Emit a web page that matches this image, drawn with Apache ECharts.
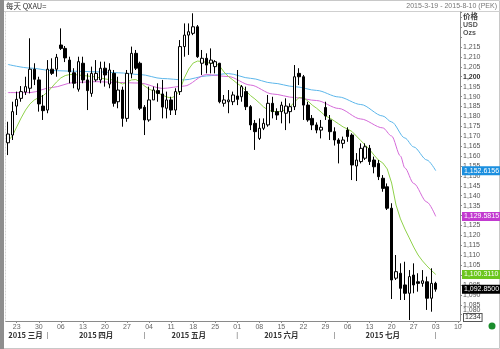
<!DOCTYPE html>
<html><head><meta charset="utf-8">
<script src="https://cdn.jsdelivr.net/npm/echarts@6/dist/echarts.min.js"></script>
<style>html,body{margin:0;padding:0;background:#fff;}#c{width:500px;height:349px;}</style>
</head><body><div id="c"></div>
<script>
// ---- data ----
const startDate = '2015-03-19', endDate = '2015-08-10';
const opens  = [1166.7,1170.6,1185.2,1189.1,1192.3,1194.2,1203.8,1198.4,1185.2,1183.2,1203.8,1203.8,1216.0,1214.3,1208.4,1202.0,1193.7,1206.8,1198.4,1191.6,1198.4,1198.4,1204.3,1196.3,1201.7,1187.4,1193.3,1179.0,1201.7,1211.8,1206.8,1184.6,1178.2,1188.3,1193.0,1191.3,1184.1,1188.3,1183.2,1192.5,1215.2,1221.0,1221.9,1225.2,1206.8,1209.3,1206.8,1205.1,1206.8,1186.6,1187.4,1187.4,1190.3,1189.9,1192.5,1184.9,1176.5,1168.9,1174.0,1175.7,1186.6,1182.4,1182.4,1181.6,1182.4,1184.9,1201.7,1200.0,1185.7,1179.0,1175.7,1173.1,1184.5,1178.2,1172.3,1168.1,1166.4,1173.1,1170.6,1155.0,1157.2,1158.9,1163.9,1158.0,1156.3,1148.8,1144.5,1133.7,1098.4,1100.9,1095.0,1090.8,1100.0,1096.6,1095.8,1096.6,1088.3,1095.8];
const closes = [1171.1,1182.4,1188.6,1192.5,1195.0,1203.8,1198.7,1186.3,1182.9,1203.8,1201.7,1209.8,1214.3,1209.5,1202.5,1196.7,1207.6,1198.4,1193.0,1201.7,1201.7,1204.3,1200.9,1203.4,1186.6,1193.3,1179.0,1201.7,1211.8,1204.3,1184.1,1178.2,1188.3,1193.3,1191.6,1184.7,1188.3,1183.2,1192.5,1215.2,1221.0,1222.7,1225.2,1210.1,1209.3,1205.9,1208.4,1207.6,1187.4,1188.3,1188.3,1190.8,1188.6,1195.0,1184.9,1175.7,1172.3,1174.0,1176.5,1186.6,1182.4,1180.7,1185.7,1185.2,1184.9,1200.0,1200.0,1185.7,1178.2,1175.7,1173.1,1174.5,1180.2,1172.3,1168.1,1166.4,1168.1,1169.8,1155.5,1158.0,1163.9,1164.7,1157.2,1154.6,1149.6,1143.7,1133.7,1097.5,1101.7,1093.3,1090.8,1099.2,1095.0,1095.8,1097.1,1088.3,1095.8,1092.85];
const lows   = [1160.5,1168.1,1180.7,1187.4,1190.8,1191.6,1195.8,1182.4,1178.2,1181.6,1200.9,1200.0,1213.5,1207.4,1196.7,1194.2,1192.5,1196.7,1183.2,1189.9,1197.5,1196.7,1195.0,1194.2,1184.9,1184.1,1174.8,1177.3,1199.2,1203.4,1183.2,1170.6,1177.3,1188.3,1187.4,1179.0,1179.0,1180.7,1180.7,1190.8,1210.1,1211.0,1221.0,1209.5,1200.9,1201.7,1201.7,1201.7,1186.6,1184.9,1181.6,1185.7,1185.7,1187.4,1183.2,1173.1,1163.1,1168.1,1173.1,1174.8,1179.0,1178.2,1176.5,1173.1,1176.5,1183.2,1195.8,1178.2,1177.3,1173.1,1171.5,1168.9,1178.2,1168.1,1165.3,1156.3,1163.9,1167.2,1147.9,1147.4,1156.3,1158.0,1155.5,1151.3,1147.9,1142.0,1132.8,1087.9,1097.5,1087.4,1087.4,1077.3,1090.8,1091.6,1094.1,1082.4,1081.5,1091.6];
const highs  = [1177.3,1187.4,1192.5,1195.3,1200.0,1219.4,1206.8,1200.0,1190.8,1208.4,1209.3,1211.5,1224.4,1215.5,1210.1,1204.3,1210.1,1210.1,1201.7,1205.1,1208.4,1207.6,1207.6,1206.8,1203.4,1200.0,1195.0,1203.4,1215.2,1213.5,1207.6,1185.7,1195.0,1195.0,1196.7,1198.4,1192.5,1189.9,1194.2,1218.5,1226.9,1226.9,1232.0,1226.1,1213.5,1211.8,1214.3,1208.4,1207.0,1190.8,1193.3,1192.5,1203.4,1195.8,1195.0,1185.7,1178.2,1179.0,1179.0,1190.8,1189.9,1184.1,1187.4,1189.1,1186.6,1205.9,1204.3,1200.9,1187.4,1180.7,1177.0,1178.2,1187.4,1180.7,1174.5,1169.0,1169.8,1174.5,1171.5,1161.5,1166.4,1166.4,1165.6,1159.7,1158.0,1150.4,1146.2,1136.2,1110.1,1105.9,1106.7,1102.5,1105.9,1100.9,1102.5,1099.2,1103.4,1096.6];
const maShort = [1167.6,1170.1,1174.7,1179.2,1183.2,1186.3,1188.3,1189.5,1190.5,1192.3,1194.8,1197.3,1199.4,1200.6,1201.1,1201.1,1200.9,1200.6,1200.4,1200.1,1199.9,1199.4,1198.9,1198.6,1198.4,1197.3,1196.3,1197.3,1198.4,1198.6,1197.3,1195.3,1193.8,1192.8,1191.8,1190.8,1189.8,1189.3,1190.3,1193.3,1199.4,1203.9,1206.9,1207.9,1207.7,1207.2,1206.8,1206.8,1205.4,1202.4,1200.1,1198.4,1196.6,1195.1,1192.8,1190.5,1188.8,1186.8,1184.7,1183.2,1182.5,1182.4,1182.6,1183.5,1184.9,1187.3,1189.5,1189.4,1187.8,1185.7,1184.1,1182.2,1180.2,1179.2,1177.7,1176.2,1174.7,1173.6,1172.4,1170.1,1167.8,1165.6,1163.3,1160.5,1158.0,1156.5,1153.5,1146.4,1135.3,1128.3,1123.2,1118.7,1114.1,1110.1,1107.1,1104.6,1102.3,1100.311];
const maMidIdx = [0,5,10,15,20,25,30,35,40,45,50,55,60,65,70,75,80,85,87,89,90,92,95,97];
const maMidVal = [1192.0,1192.0,1194.6,1197.1,1197.5,1197.1,1196.8,1194.1,1195.3,1201.1,1200.1,1195.8,1191.3,1189.5,1188.0,1184.0,1178.7,1174.2,1170.1,1160.0,1154.0,1146.2,1136.8,1129.5815];
const maLongIdx = [0,5,10,15,20,25,30,35,40,45,50,55,60,65,70,75,80,85,87,90,92,95,97];
const maLongVal = [1206.2,1204.4,1203.1,1202.8,1202.5,1202.0,1201.1,1199.1,1198.4,1200.4,1201.6,1199.2,1196.8,1195.0,1193.1,1189.8,1186.0,1180.2,1177.2,1169.1,1164.6,1158.0,1152.6156];
const monthLabelIdx = [4,20,41,62,85];
const monthLabels = ['2015 三月','2015 四月','2015 五月','2015 六月','2015 七月'];
const monthStartIdx = [9,31,52,74,97];

// ---- helpers ----
function weekdays(a,b){
  const out=[]; let d=new Date(a+'T00:00:00Z'); const e=new Date(b+'T00:00:00Z');
  while(d<=e){ const w=d.getUTCDay(); if(w!==0&&w!==6) out.push(d.toISOString().slice(0,10)); d=new Date(d.getTime()+86400000); }
  return out;
}
function fmt(v,d){ const s=v.toFixed(d); const p=s.split('.'); return p[0].replace(/\B(?=(\d{3})+(?!\d))/g,',')+(p[1]?'.'+p[1]:''); }
const categories = weekdays(startDate,endDate);
const isMonday = (i)=> new Date(categories[i]+'T00:00:00Z').getUTCDay()===1;
function sparse(idx,val){ const a=new Array(opens.length).fill(null); idx.forEach((k,j)=>a[k]=val[j]); return a; }
const candleData = opens.map((o,i)=>[o,closes[i],lows[i],highs[i]]);
const F='Liberation Sans, Arial, sans-serif';
const CJK='Noto Sans CJK SC, sans-serif';
function tag(value,bg){
  return { silent:true, symbol:['none','none'], animation:false,
    lineStyle:{color:'rgba(0,0,0,0)',width:0,type:'solid'},
    label:{show:true, position:'end', distance:2, formatter:()=>fmt(value,4), backgroundColor:bg, color:'#fff',
      fontSize:7, fontFamily:F, padding:[1,2,0,2], lineHeight:8, opacity:1},
    emphasis:{disabled:true},
    data:[{yAxis:value}] };
}

const chart = echarts.init(document.getElementById('c'), null, {renderer:'canvas'});
chart.setOption({
  animation:false,
  grid:{left:5.7,right:40,top:12.1,bottom:24.4,containLabel:false,outerBoundsMode:'none'},
  xAxis:[{
    type:'category', data:categories, boundaryGap:true, offset:-3.6,
    axisLine:{show:true,lineStyle:{color:'#8a8a8a',width:1}},
    axisTick:{show:true,alignWithLabel:true,interval:isMonday,length:2,lineStyle:{color:'#8a8a8a'}},
    axisLabel:{interval:isMonday,formatter:v=>v.slice(8),fontSize:7,color:'#666',fontFamily:F,margin:3},
    splitLine:{show:false}
  },{
    type:'category', data:categories, boundaryGap:true, position:'bottom', offset:3.5,
    axisLine:{show:false}, axisTick:{show:false}, splitLine:{show:false},
    axisLabel:{interval:(i)=>monthLabelIdx.indexOf(i)>=0||monthStartIdx.indexOf(i)>=0,
      formatter:(v,i)=>{const k=monthLabelIdx.indexOf(i); if(k>=0) return '{m|'+monthLabels[k]+'}'; return '{s||}';},
      margin:3,
      rich:{m:{fontSize:7.5,fontWeight:'bold',color:'#333',fontFamily:CJK},s:{fontSize:7,color:'#666',fontFamily:F}}}
  }],
  yAxis:{
    type:'value', position:'right', min:1075, max:1232.6, interval:5,
    axisLine:{show:false}, splitLine:{show:false},
    axisTick:{show:true,length:2,lineStyle:{color:'#8a8a8a'}},
    axisLabel:{margin:3,fontSize:7,color:'#555',fontFamily:F,
      formatter:v=>{ if(v<1080||v>1215) return ''; const t=fmt(v,0); if(v===1200) return '{b|'+t+'}'; if(v===1080) return '{u|'+t+'}'; return t; },
      rich:{b:{fontSize:7,fontWeight:'bold',color:'#333',fontFamily:F},
            u:{fontSize:7,color:'#555',fontFamily:F,padding:[0,0,9,0]}}}
  },
  series:[
    {type:'line', name:'maLong', data:sparse(maLongIdx,maLongVal), connectNulls:true, smooth:0.3, smoothMonotone:'x', symbol:'none',
      lineStyle:{color:'#5cb6ea',width:1}, z:2, markLine:tag(maLongVal[maLongVal.length-1],'#1b8fdf')},
    {type:'line', name:'maMid', data:sparse(maMidIdx,maMidVal), connectNulls:true, smooth:0.3, smoothMonotone:'x', symbol:'none',
      lineStyle:{color:'#d46ad8',width:1}, z:2, markLine:tag(maMidVal[maMidVal.length-1],'#c23ad0')},
    {type:'line', name:'maShort', data:maShort, symbol:'none',
      lineStyle:{color:'#8fd14a',width:1}, z:2, markLine:tag(maShort[maShort.length-1],'#6cc61e')},
    {type:'candlestick', data:candleData, barWidth:3, z:3,
      itemStyle:{color:'#ffffff',color0:'#000000',borderColor:'#000000',borderColor0:'#000000',borderWidth:1},
      markLine:tag(closes[closes.length-1],'#000000')}
  ],
  graphic:[
    {type:'rect',shape:{x:0.5,y:0.5,width:499,height:348},style:{fill:'none',stroke:'#c8c8c8'},z:-1},
    {type:'rect',shape:{x:0,y:0,width:4,height:349},style:{fill:'#8e8e8e'}},
    {type:'line',shape:{x1:4,y1:11.5,x2:500,y2:11.5},style:{stroke:'#cfcfcf',lineWidth:1}},
    {type:'line',shape:{x1:5.5,y1:11.5,x2:5.5,y2:321},style:{stroke:'#d4d4d4',lineWidth:1,lineDash:[2,1]}},
    {type:'line',shape:{x1:460.5,y1:11.5,x2:460.5,y2:321},style:{stroke:'#8a8a8a',lineWidth:1}},
    {type:'text',x:6,y:6,style:{text:'每天 QXAU=',fontSize:7.5,fontFamily:CJK,fill:'#333',verticalAlign:'middle'}},
    {type:'text',x:497,y:6,style:{text:'2015-3-19 - 2015-8-10 (PEK)',fontSize:7,fontFamily:F,fill:'#777',align:'right',verticalAlign:'middle'}},
    {type:'text',x:463,y:16,style:{text:'价格',fontSize:7.5,fontWeight:'bold',fontFamily:CJK,fill:'#444',verticalAlign:'middle'}},
    {type:'text',x:463,y:25,style:{text:'USD',fontSize:7,fontWeight:'bold',fontFamily:F,fill:'#555',verticalAlign:'middle'}},
    {type:'text',x:463,y:33,style:{text:'Ozs',fontSize:7,fontWeight:'bold',fontFamily:F,fill:'#555',verticalAlign:'middle'}},
    {type:'text',x:464,y:317.5,style:{text:'1234',fontSize:7,fontFamily:F,fill:'#333',verticalAlign:'middle',
      borderColor:'#555',borderWidth:1,padding:[0,1],backgroundColor:'#fff'}},
    {type:'circle',shape:{cx:492,cy:326,r:3.5},style:{fill:'#1a8c2c'}}
  ]
});
</script></body></html>
